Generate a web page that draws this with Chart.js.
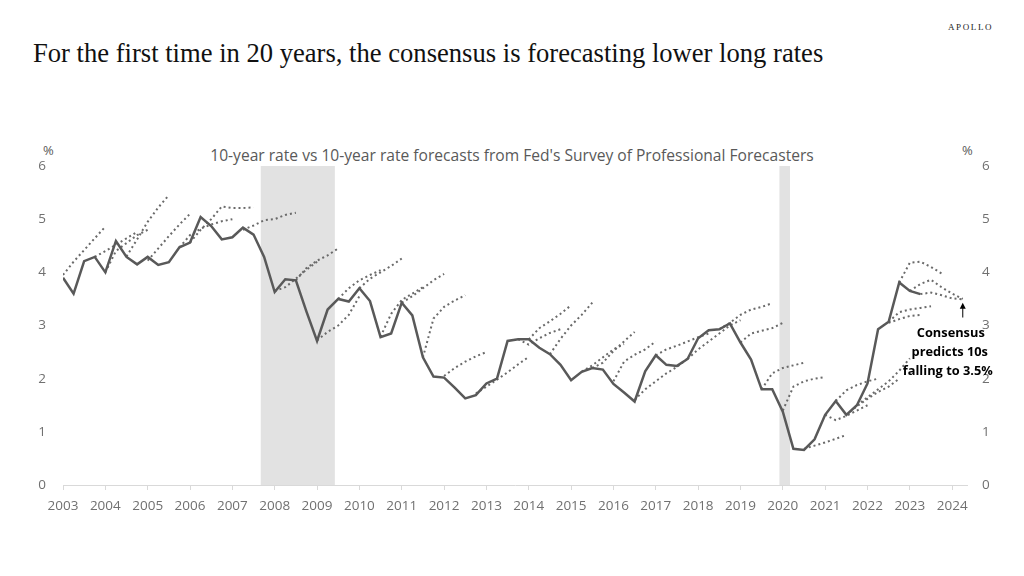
<!DOCTYPE html>
<html>
<head>
<meta charset="utf-8">
<script src="https://cdn.jsdelivr.net/npm/chart.js@4.4.0/dist/chart.umd.min.js"></script>
<style>
  html, body { margin: 0; padding: 0; background: #fff; }
  body { width: 1024px; height: 576px; position: relative; overflow: hidden; }
  #c { position: absolute; left: 0; top: 0; }
  .title { position: absolute; left: 33px; top: 38px; font-family: "Liberation Serif", serif; font-size: 26.6px; color: #111; white-space: nowrap; }
  .brand { position: absolute; left: 948px; top: 22px; font-family: "Liberation Serif", serif; font-size: 9px; letter-spacing: 1.6px; color: #222; }
  .sub { position: absolute; left: 0; width: 1024px; top: 144px; text-align: center; font-family: "Open Sans", sans-serif; font-size: 15.6px; color: #595959; white-space: nowrap; }
  .pct { position: absolute; top: 141px; font-family: "Open Sans", sans-serif; font-size: 13px; color: #595959; }
</style>
</head>
<body>
<div class="brand">APOLLO</div>
<div class="title">For the first time in 20 years, the consensus is forecasting lower long rates</div>
<div class="sub">10-year rate vs 10-year rate forecasts from Fed's Survey of Professional Forecasters</div>
<div class="pct" style="left:43px">%</div>
<div class="pct" style="left:962px">%</div>
<canvas id="c" width="1024" height="576"></canvas>
<script>
// quarterly 10-year yield, starting 2003 Q1
const firstYear = 2003;
const tenYear = [
  3.90, 3.60, 4.21, 4.29,
  4.00, 4.59, 4.29, 4.15,
  4.29, 4.14, 4.19, 4.47,
  4.56, 5.04, 4.87, 4.62,
  4.66, 4.84, 4.71, 4.29,
  3.63, 3.87, 3.85, 3.26,
  2.71, 3.30, 3.50, 3.45,
  3.70, 3.46, 2.78, 2.85,
  3.43, 3.19, 2.40, 2.04,
  2.02, 1.83, 1.63, 1.69,
  1.91, 2.00, 2.71, 2.74,
  2.74, 2.58, 2.46, 2.26,
  1.97, 2.13, 2.20, 2.17,
  1.90, 1.74, 1.57, 2.14,
  2.44, 2.26, 2.24, 2.37,
  2.76, 2.91, 2.93, 3.04,
  2.68, 2.36, 1.80, 1.80,
  1.38, 0.68, 0.66, 0.86,
  1.32, 1.58, 1.32, 1.50,
  1.91, 2.93, 3.07, 3.81,
  3.65, 3.59
];

// SPF forecast paths: first quarter of each path, then quarterly values
const forecastStarts = [
  2003.0, 2003.75, 2004.0, 2004.5, 2005.0, 2005.75, 2006.0, 2007.25,
  2008.0, 2008.5, 2009.0, 2009.5, 2010.0, 2010.5, 2011.0, 2011.5,
  2012.0, 2012.75, 2013.75, 2014.0, 2014.5, 2015.25, 2015.5, 2016.0,
  2016.5, 2017.0, 2017.75, 2018.5, 2019.0, 2019.5, 2020.0, 2020.5,
  2021.0, 2021.25, 2021.5, 2021.75, 2022.5, 2022.5, 2022.75, 2023.0, 2023.25
];
const forecastPaths = [
  [3.95, 4.20, 4.42, 4.64, 4.86],
  [4.29, 4.40, 4.52, 4.64, 4.76],
  [4.00, 4.40, 4.55, 4.70, 4.80],
  [4.30, 4.62, 4.95, 5.22, 5.45],
  [4.22, 4.45, 4.68, 4.90, 5.10],
  [4.47, 4.70, 4.82, 4.90, 4.96, 5.00],
  [4.56, 4.80, 5.00, 5.24, 5.21, 5.21, 5.22],
  [4.80, 4.88, 4.98, 5.00, 5.08, 5.12],
  [3.65, 3.72, 3.88, 4.05, 4.20],
  [3.85, 4.08, 4.22, 4.32, 4.45],
  [2.72, 2.88, 3.00, 3.20, 3.55],
  [3.50, 3.70, 3.85, 3.95, 4.04],
  [3.70, 3.88, 4.00, 4.12, 4.26],
  [2.79, 3.22, 3.48, 3.60, 3.72],
  [3.43, 3.55, 3.70, 3.85, 3.97],
  [2.40, 3.13, 3.35, 3.47, 3.57],
  [2.05, 2.20, 2.32, 2.42, 2.50],
  [1.72, 1.85, 1.98, 2.12, 2.27, 2.41],
  [2.74, 2.64, 2.76, 2.86, 2.93],
  [2.74, 2.95, 3.08, 3.22, 3.38],
  [2.46, 2.75, 3.00, 3.20, 3.43],
  [2.13, 2.25, 2.40, 2.55, 2.65],
  [2.20, 2.30, 2.52, 2.70, 2.88],
  [1.95, 2.32, 2.45, 2.55, 2.70],
  [1.60, 1.80, 1.95, 2.10, 2.22, 2.38],
  [2.44, 2.55, 2.62, 2.70, 2.78, 2.85],
  [2.37, 2.55, 2.70, 2.85, 3.00, 3.10],
  [2.93, 3.05, 3.20, 3.30, 3.35, 3.42],
  [2.68, 2.85, 2.90, 2.95, 3.05],
  [1.80, 2.10, 2.20, 2.25, 2.30],
  [1.40, 1.85, 1.95, 2.00, 2.03],
  [0.68, 0.74, 0.80, 0.87, 0.94],
  [1.32, 1.22, 1.30, 1.40, 1.50],
  [1.58, 1.78, 1.88, 1.95, 2.00],
  [1.32, 1.48, 1.62, 1.75, 1.85, 2.00],
  [1.50, 1.65, 1.80, 1.95, 2.15, 2.38],
  [3.07, 3.25, 3.30, 3.33, 3.36],
  [3.05, 3.12, 3.18, 3.20],
  [3.81, 4.18, 4.20, 4.10, 3.98],
  [3.65, 3.78, 3.86, 3.72, 3.60, 3.50],
  [3.59, 3.62, 3.57, 3.51, 3.49]
];

const recessionStart = [2007.67, 2019.92];
const recessionEnd = [2009.42, 2020.17];

const yearTicks = [2003, 2004, 2005, 2006, 2007, 2008, 2009, 2010, 2011, 2012, 2013,
  2014, 2015, 2016, 2017, 2018, 2019, 2020, 2021, 2022, 2023, 2024];

const tickFont = { family: "Open Sans", size: 13.5 };
const tickColor = "#707070";

const datasets = [{
  data: tenYear.map((v, i) => ({ x: firstYear + i / 4, y: v })),
  borderColor: "#595959",
  borderWidth: 2.5,
  pointRadius: 0,
  yAxisID: "y"
}];
forecastPaths.forEach((path, k) => {
  datasets.push({
    data: path.map((v, i) => ({ x: forecastStarts[k] + i / 4, y: v })),
    borderColor: "#6a6a6a",
    borderWidth: 2,
    borderDash: [2, 3],
    pointRadius: 0,
    yAxisID: "y"
  });
});

// grey recession bars
const shading = {
  id: "shading",
  beforeDatasetsDraw(chart) {
    const { ctx, chartArea, scales } = chart;
    ctx.save();
    ctx.fillStyle = "#e2e2e2";
    recessionStart.forEach((s, i) => {
      const x0 = scales.x.getPixelForValue(s);
      const x1 = scales.x.getPixelForValue(recessionEnd[i]);
      ctx.fillRect(x0, chartArea.top, x1 - x0, chartArea.bottom - chartArea.top);
    });
    ctx.restore();
  }
};

// arrow + note at the end of the latest forecast
const note = {
  id: "note",
  afterDatasetsDraw(chart) {
    const { ctx, scales } = chart;
    const x = scales.x.getPixelForValue(2024.25);
    const yTop = scales.y.getPixelForValue(3.43);
    const yBot = scales.y.getPixelForValue(3.15);
    ctx.save();
    ctx.strokeStyle = "#000";
    ctx.fillStyle = "#000";
    ctx.lineWidth = 1;
    ctx.beginPath();
    ctx.moveTo(x, yBot);
    ctx.lineTo(x, yTop + 4);
    ctx.stroke();
    ctx.beginPath();
    ctx.moveTo(x, yTop);
    ctx.lineTo(x - 3, yTop + 6);
    ctx.lineTo(x + 3, yTop + 6);
    ctx.closePath();
    ctx.fill();
    ctx.font = "bold 12.8px 'Open Sans'";
    ctx.textAlign = "center";
    ctx.textBaseline = "middle";
    const cx = x - 13;
    ctx.fillText("Consensus", cx + 1, scales.y.getPixelForValue(2.86));
    ctx.fillText("predicts 10s", cx, scales.y.getPixelForValue(2.5));
    ctx.fillText("falling to 3.5%", cx - 2, scales.y.getPixelForValue(2.14));
    ctx.restore();
  }
};

new Chart(document.getElementById("c"), {
  type: "line",
  data: { datasets },
  options: {
    responsive: false,
    animation: false,
    layout: { padding: { top: 166, left: 0, right: 0, bottom: 0 } },
    plugins: { legend: { display: false }, tooltip: { enabled: false } },
    scales: {
      x: {
        type: "linear",
        min: 2003,
        max: 2024.35,
        afterBuildTicks: s => { s.ticks = yearTicks.map(v => ({ value: v })); },
        afterFit: s => { s.height = 91; },
        ticks: { callback: v => String(v), font: tickFont, color: tickColor, padding: 8, maxRotation: 0, autoSkip: false },
        grid: { drawOnChartArea: false, tickLength: 5, color: "#d9d9d9" },
        border: { color: "#d9d9d9" }
      },
      y: {
        position: "left",
        min: 0, max: 6,
        afterFit: s => { s.width = 63; },
        ticks: { stepSize: 1, font: tickFont, color: tickColor, padding: 9 },
        grid: { display: false },
        border: { display: false }
      },
      y2: {
        position: "right",
        min: 0, max: 6,
        afterFit: s => { s.width = 57; },
        ticks: { stepSize: 1, font: tickFont, color: tickColor, padding: 7 },
        grid: { display: false },
        border: { display: false }
      }
    }
  },
  plugins: [shading, note]
});
</script>
</body>
</html>
